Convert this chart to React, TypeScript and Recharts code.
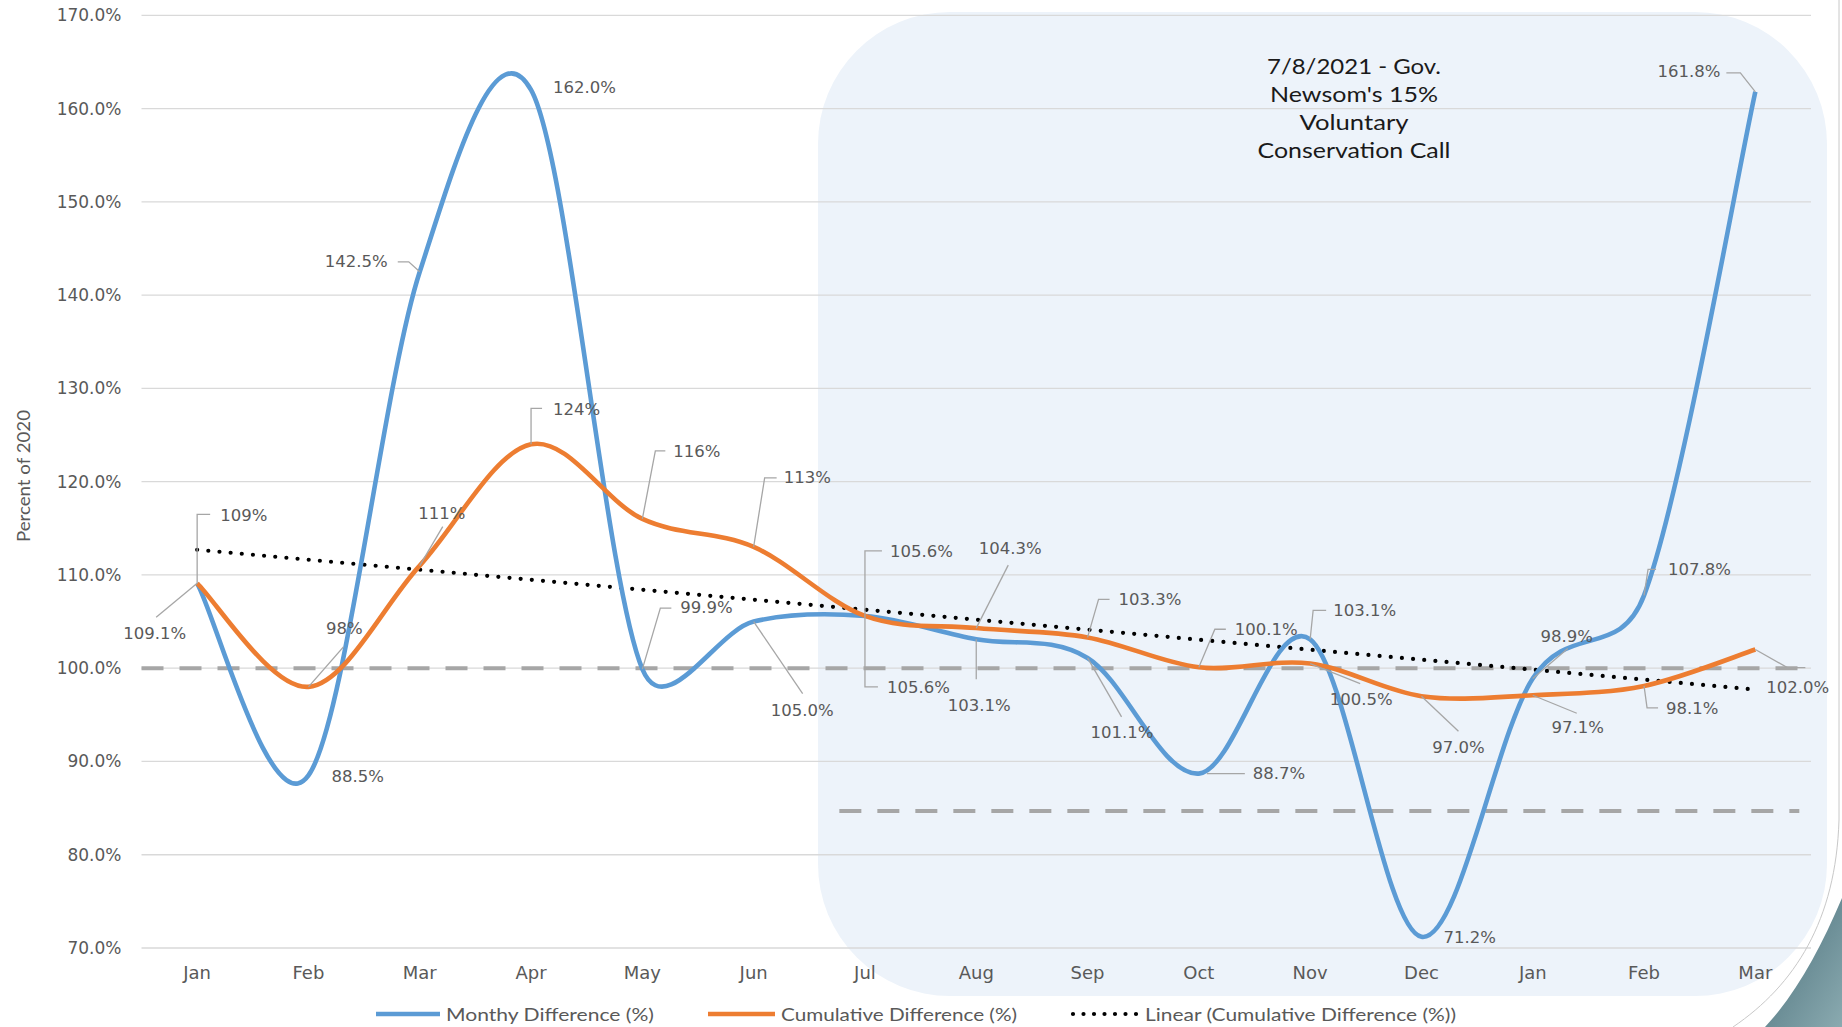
import React from 'react';
import { LineChart, Line, XAxis, YAxis, CartesianGrid, ReferenceLine, LabelList } from 'recharts';

// ---------- data ----------
const periods = ['2021-01', '2021-02', '2021-03', '2021-04', '2021-05', '2021-06', '2021-07', '2021-08', '2021-09', '2021-10', '2021-11', '2021-12', '2022-01', '2022-02', '2022-03'];
const monthLabels = ['Jan', 'Feb', 'Mar', 'Apr', 'May', 'Jun', 'Jul', 'Aug', 'Sep', 'Oct', 'Nov', 'Dec', 'Jan', 'Feb', 'Mar'];
const monthlyDiff = [109.1, 88.5, 142.5, 162.0, 99.9, 105.0, 105.6, 103.1, 101.1, 88.7, 103.1, 71.2, 98.9, 107.8, 161.8];
const cumulativeDiff = [109.1, 98.0, 111.0, 124.0, 116.0, 113.0, 105.6, 104.3, 103.3, 100.1, 100.5, 97.0, 97.1, 98.1, 102.0];
const cumulativeLabelText = ['109%', '98%', '111%', '124%', '116%', '113%', '105.6%', '104.3%', '103.3%', '100.1%', '100.5%', '97.0%', '97.1%', '98.1%', '102.0%'];
const monthlyLabelText = monthlyDiff.map((v) => `${v.toFixed(1)}%`);
const trendStart = 112.7; // Linear (Cumulative Difference) at first month
const trendEnd = 97.7; // at last month
const baselineValue = 100;
const targetValue = 84.7;
const yTicks = [70, 80, 90, 100, 110, 120, 130, 140, 150, 160, 170];
const annotationLines = ['7/8/2021 - Gov.', "Newsom's 15%", 'Voluntary', 'Conservation Call'];
const seriesNames = ['Monthy Difference (%)', 'Cumulative Difference (%)', 'Linear (Cumulative Difference (%))'];

const data = periods.map((p, i) => ({ period: p, monthly: monthlyDiff[i], cumulative: cumulativeDiff[i] }));

// ---------- style / layout ----------
const BLUE = '#5B9BD5';
const ORANGE = '#ED7D31';
const LABEL_GREY = '#595959';
const LEADER = '#A6A6A6';
const W = 1842;
const H = 1027;

type Spec = { tx: number; ty: number; a: 'start' | 'middle' | 'end'; l: number[][] | null };

const monthlySpecs: Spec[] = [
  { tx: -74, ty: 50, a: 'start', l: [[0, 0], [-41, 34]] },
  { tx: 23, ty: 1, a: 'start', l: null },
  { tx: -32, ty: -10, a: 'end', l: [[0, 0], [-11, -10], [-22, -10]] },
  { tx: 22, ty: -2, a: 'start', l: null },
  { tx: 38, ty: -62, a: 'start', l: [[0, 0], [18, -61], [29, -61]] },
  { tx: 48.5, ty: 89, a: 'middle', l: [[0, 0], [49, 72]] },
  { tx: 22, ty: 72, a: 'start', l: [[0, 0], [0, 71], [13, 71]] },
  { tx: 3, ty: 66, a: 'middle', l: [[0, 0], [0, 40]] },
  { tx: 34.5, ty: 75, a: 'middle', l: [[0, 0], [34, 59]] },
  { tx: 54, ty: 0, a: 'start', l: [[8, 0], [46, 0]] },
  { tx: 23, ty: -29, a: 'start', l: [[0, 0], [3, -29], [16, -29]] },
  { tx: 22, ty: 1, a: 'start', l: null },
  { tx: 34, ty: -42, a: 'middle', l: [[0, 0], [35, -30]] },
  { tx: 24, ty: -26, a: 'start', l: [[0, 0], [4, -26], [12, -26]] },
  { tx: -35, ty: -20, a: 'end', l: [[0, 0], [-15, -19], [-29, -19]] },
];

const cumulativeSpecs: Spec[] = [
  { tx: 23, ty: -68, a: 'start', l: [[0, 0], [0, -69], [13, -69]] },
  { tx: 36, ty: -58, a: 'middle', l: [[0, 0], [35, -40]] },
  { tx: 22, ty: -52, a: 'middle', l: [[0, 0], [23, -39]] },
  { tx: 22, ty: -35, a: 'start', l: [[0, 0], [0, -36], [11, -36]] },
  { tx: 31, ty: -67, a: 'start', l: [[0, 0], [13, -68], [23, -68]] },
  { tx: 30, ty: -69, a: 'start', l: [[0, 0], [11, -69], [23, -69]] },
  { tx: 25, ty: -64, a: 'start', l: [[0, 0], [0, -65], [17, -65]] },
  { tx: 34, ty: -80, a: 'middle', l: [[0, 0], [32, -63]] },
  { tx: 31, ty: -38, a: 'start', l: [[0, 0], [11, -38], [22, -38]] },
  { tx: 36, ty: -38, a: 'start', l: [[0, 0], [16, -38], [27, -38]] },
  { tx: 51, ty: 36, a: 'middle', l: [[0, 0], [50, 20]] },
  { tx: 37, ty: 51, a: 'middle', l: [[0, 0], [37, 35]] },
  { tx: 45, ty: 32, a: 'middle', l: [[0, 0], [44, 18]] },
  { tx: 22, ty: 23, a: 'start', l: [[0, 0], [3, 22], [14, 22]] },
  { tx: 11, ty: 38, a: 'start', l: [[0, 0], [32, 18], [50, 18]] },
];

// Excel-like smoothed line: Bezier with 1/6 tangents, limited to half the segment length
function excelSmooth(context: any) {
  let pts: number[][] = [];
  const dist = (a: number[], b: number[]) => Math.hypot(a[0] - b[0], a[1] - b[1]);
  return {
    areaStart() {},
    areaEnd() {},
    lineStart() {
      pts = [];
    },
    point(x: number, y: number) {
      pts.push([+x, +y]);
    },
    lineEnd() {
      if (!pts.length) return;
      context.moveTo(pts[0][0], pts[0][1]);
      for (let i = 0; i < pts.length - 1; i++) {
        const p0 = pts[i - 1] || pts[i];
        const p1 = pts[i];
        const p2 = pts[i + 1];
        const p3 = pts[i + 2] || p2;
        const d12 = dist(p1, p2);
        const d02 = dist(p0, p2);
        const d13 = dist(p1, p3);
        let f = 1 / 6;
        let g = 1 / 6;
        if (d02 / 6 > d12 / 2 && d02 > 0) f = d12 / (2 * d02);
        if (d13 / 6 > d12 / 2 && d13 > 0) g = d12 / (2 * d13);
        context.bezierCurveTo(
          p1[0] + (p2[0] - p0[0]) * f,
          p1[1] + (p2[1] - p0[1]) * f,
          p2[0] - (p3[0] - p1[0]) * g,
          p2[1] - (p3[1] - p1[1]) * g,
          p2[0],
          p2[1]
        );
      }
    },
  };
}

const makeLabel = (specs: Spec[], texts: string[]) => (props: any) => {
  const index = props.index;
  const x = props.x ?? props.viewBox?.x;
  const y = props.y ?? props.viewBox?.y;
  const s = specs[index];
  if (!s || x == null || y == null) return null;
  return (
    <g key={`lbl-${index}`}>
      {s.l && (
        <polyline
          points={s.l.map(([dx, dy]) => `${x + dx},${y + dy}`).join(' ')}
          fill="none"
          stroke={LEADER}
          strokeWidth={1.3}
        />
      )}
      <text
        x={x + s.tx}
        y={y + s.ty}
        textAnchor={s.a}
        dominantBaseline="central"
        fontSize={16.5}
        fontFamily="DejaVu Sans"
        fill={LABEL_GREY}
      >
        {texts[index]}
      </text>
    </g>
  );
};

const TargetShape = (p: any) => {
  const x1 = p.x1 ?? 0;
  const x2 = p.x2 ?? 0;
  const y = p.y1 ?? 0;
  const w = x2 - x1;
  return (
    <line
      x1={x1 + w * 0.418}
      x2={x1 + w * 0.993}
      y1={y}
      y2={y}
      stroke="#A6A6A6"
      strokeWidth={4}
      strokeDasharray="22 16"
    />
  );
};

export default function App() {
  return (
    <div style={{ position: 'absolute', left: 0, top: 0, width: W, height: H, background: '#fff', overflow: 'hidden' }}>
      {/* shaded conservation period */}
      <div
        style={{
          position: 'absolute',
          left: 818,
          top: 12,
          width: 1009,
          height: 984,
          borderRadius: 132,
          background: '#EDF3FA',
        }}
      />
      <div style={{ position: 'absolute', left: 0, top: 0 }}>
        <LineChart width={W} height={H} data={data} margin={{ top: 15.3, right: 31, left: 0, bottom: 39 }}>
          <CartesianGrid vertical={false} stroke="#D9D9D9" strokeWidth={1.3} />
          <XAxis
            dataKey="period"
            axisLine={false}
            tickLine={false}
            tickSize={0}
            tickMargin={18}
            height={40}
            interval={0}
            padding={{ left: 55.65, right: 55.65 }}
            tickFormatter={(v: string) => monthLabels[periods.indexOf(v)]}
            tick={{ fill: LABEL_GREY, fontSize: 18, fontFamily: 'DejaVu Sans' }}
          />
          <YAxis
            domain={[70, 170]}
            ticks={yTicks}
            width={141.5}
            axisLine={false}
            tickLine={false}
            tickSize={0}
            tickMargin={20}
            allowDataOverflow
            tickFormatter={(v: number) => `${v.toFixed(1)}%`}
            tick={{ fill: LABEL_GREY, fontSize: 17, fontFamily: 'DejaVu Sans' }}
          />
          <ReferenceLine y={baselineValue} stroke="#A6A6A6" strokeWidth={4} strokeDasharray="22 16" />
          <ReferenceLine y={targetValue} shape={TargetShape} />
          <ReferenceLine
            segment={[
              { x: periods[0], y: trendStart },
              { x: periods[periods.length - 1], y: trendEnd },
            ]}
            stroke="#000"
            strokeWidth={4.2}
            strokeDasharray="0 11.2"
            strokeLinecap="round"
          />
          <Line
            dataKey="monthly"
            name={seriesNames[0]}
            type={excelSmooth as any}
            stroke={BLUE}
            strokeWidth={4.6}
            dot={false}
            activeDot={false}
            isAnimationActive={false}
          >
            <LabelList dataKey="monthly" content={makeLabel(monthlySpecs, monthlyLabelText)} />
          </Line>
          <Line
            dataKey="cumulative"
            name={seriesNames[1]}
            type={excelSmooth as any}
            stroke={ORANGE}
            strokeWidth={4.6}
            dot={false}
            activeDot={false}
            isAnimationActive={false}
          >
            <LabelList dataKey="cumulative" content={makeLabel(cumulativeSpecs, cumulativeLabelText)} />
          </Line>
        </LineChart>
      </div>
      {/* overlay: axis title, annotation, legend, slide decoration */}
      <svg width={W} height={H} style={{ position: 'absolute', left: 0, top: 0, pointerEvents: 'none' }}>
        <defs>
          <linearGradient id="teal" x1="0" y1="0" x2="1" y2="1">
            <stop offset="0" stopColor="#4A6F7A" />
            <stop offset="1" stopColor="#8AAAB0" />
          </linearGradient>
        </defs>
        <text
          x={23}
          y={476}
          transform="rotate(-90 23 476)"
          textAnchor="middle"
          dominantBaseline="central"
          fontFamily="Lato"
          fontSize={17}
          fill={LABEL_GREY}
          textLength={132}
          lengthAdjust="spacingAndGlyphs"
        >
          Percent of 2020
        </text>
        {annotationLines.map((t, i) => (
          <text
            key={t}
            x={1354}
            y={65 + i * 28}
            textAnchor="middle"
            dominantBaseline="central"
            fontFamily="Lato"
            fontSize={22}
            fill="#1A1A1A"
            textLength={[174, 168, 109, 193][i]}
            lengthAdjust="spacingAndGlyphs"
          >
            {t}
          </text>
        ))}
        {/* legend */}
        <line x1={376} x2={440} y1={1014} y2={1014} stroke={BLUE} strokeWidth={4.6} />
        <text x={446} y={1014} dominantBaseline="central" fontFamily="Lato" fontSize={18} fill={LABEL_GREY} textLength={208} lengthAdjust="spacingAndGlyphs">
          {seriesNames[0]}
        </text>
        <line x1={708} x2={775} y1={1014} y2={1014} stroke={ORANGE} strokeWidth={4.6} />
        <text x={781} y={1014} dominantBaseline="central" fontFamily="Lato" fontSize={18} fill={LABEL_GREY} textLength={236} lengthAdjust="spacingAndGlyphs">
          {seriesNames[1]}
        </text>
        <line x1={1073} x2={1137} y1={1014} y2={1014} stroke="#000" strokeWidth={4.2} strokeDasharray="0 10.5" strokeLinecap="round" />
        <text x={1145} y={1014} dominantBaseline="central" fontFamily="Lato" fontSize={18} fill={LABEL_GREY} textLength={311} lengthAdjust="spacingAndGlyphs">
          {seriesNames[2]}
        </text>
        {/* slide decoration */}
        <path d="M 1839 0 L 1839 820 C 1836 920 1795 985 1733 1027" fill="none" stroke="#C8C8C8" strokeWidth={1} />
        <path d="M 1842 898 C 1820 950 1795 995 1765 1027 L 1842 1027 Z" fill="url(#teal)" />
      </svg>
    </div>
  );
}
